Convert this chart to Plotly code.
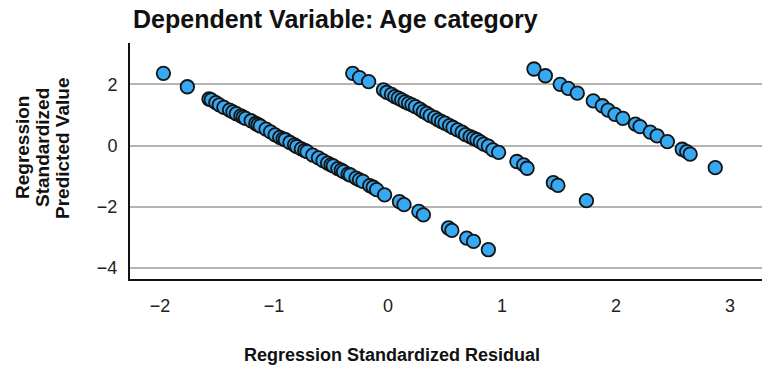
import plotly.graph_objects as go

# Band 1 (lowest diagonal)
res1 = [-1.97, -1.76, -1.57, -1.55, -1.51, -1.48, -1.44, -1.39, -1.36, -1.33, -1.29, -1.27, -1.25,
        -1.20, -1.16, -1.14, -1.12, -1.07, -1.03, -0.99, -0.95, -0.92, -0.90, -0.86, -0.82, -0.80,
        -0.76, -0.73, -0.71, -0.66, -0.61, -0.57, -0.53, -0.50, -0.48, -0.44, -0.41, -0.39, -0.35,
        -0.33, -0.28, -0.25, -0.22, -0.16, -0.13, -0.10, -0.03, 0.10, 0.14, 0.27, 0.31, 0.53,
        0.56, 0.69, 0.75, 0.88]
pred1 = [2.36, 1.92, 1.52, 1.49, 1.40, 1.33, 1.25, 1.16, 1.10, 1.04, 0.97, 0.93, 0.89,
         0.81, 0.72, 0.68, 0.64, 0.54, 0.45, 0.35, 0.27, 0.22, 0.19, 0.10, 0.02, -0.03,
         -0.11, -0.16, -0.20, -0.31, -0.40, -0.49, -0.57, -0.63, -0.66, -0.75, -0.80, -0.85, -0.93,
         -0.96, -1.06, -1.12, -1.17, -1.31, -1.36, -1.44, -1.61, -1.83, -1.93, -2.15, -2.26, -2.69,
         -2.77, -3.02, -3.13, -3.40]

# Band 2 (middle diagonal)
res2 = [-0.31, -0.25, -0.17, -0.04, -0.01, 0.03, 0.06, 0.09, 0.12, 0.15, 0.18, 0.21, 0.24, 0.28,
        0.31, 0.34, 0.37, 0.41, 0.44, 0.47, 0.50, 0.54, 0.57, 0.61, 0.65, 0.68, 0.72, 0.75, 0.78,
        0.81, 0.84, 0.88, 0.92, 0.97, 1.13, 1.19, 1.22, 1.45, 1.49, 1.74]
pred2 = [2.36, 2.22, 2.09, 1.82, 1.74, 1.67, 1.60, 1.55, 1.49, 1.43, 1.38, 1.33, 1.27, 1.19,
         1.11, 1.05, 0.98, 0.91, 0.84, 0.78, 0.73, 0.65, 0.59, 0.51, 0.44, 0.36, 0.29, 0.24, 0.19,
         0.12, 0.05, -0.02, -0.14, -0.22, -0.52, -0.63, -0.74, -1.21, -1.30, -1.80]

# Band 3 (upper diagonal)
res3 = [1.28, 1.38, 1.51, 1.58, 1.66, 1.80, 1.88, 1.93, 1.99, 2.06, 2.17, 2.21, 2.30, 2.36,
        2.45, 2.58, 2.62, 2.65, 2.87]
pred3 = [2.50, 2.28, 2.00, 1.87, 1.71, 1.46, 1.30, 1.16, 1.02, 0.89, 0.70, 0.62, 0.44, 0.32,
         0.13, -0.12, -0.20, -0.28, -0.72]

x_ticks = [-2, -1, 0, 1, 2, 3]
y_ticks = [-4, -2, 0, 2]

title_text = "Dependent Variable: Age category"
x_title = "Regression Standardized Residual"
y_title_lines = ["Regression", "Standardized", "Predicted Value"]

FONT = "Liberation Sans, Arial, sans-serif"

fig = go.Figure()
fig.add_trace(go.Scatter(
    x=res1 + res2 + res3,
    y=pred1 + pred2 + pred3,
    mode="markers",
    marker=dict(size=13.5, color="#36a9f2", line=dict(color="#141414", width=1.8)),
    showlegend=False,
))

annotations = [
    dict(text="<b>" + x_title + "</b>", xref="paper", yref="paper",
         x=(392 - 130) / 632, y=-(355 - 279) / 236, xanchor="center", yanchor="middle",
         showarrow=False, font=dict(size=18, color="#111", family=FONT)),
]
for i, line in enumerate(y_title_lines):
    annotations.append(dict(
        text="<b>" + line + "</b>", xref="paper", yref="paper",
        x=-(130 - (22 + 20 * i)) / 632, y=(279 - 148) / 236,
        xanchor="center", yanchor="middle", textangle=-90, showarrow=False,
        font=dict(size=19, color="#111", family=FONT)))

fig.update_layout(
    width=768, height=376,
    margin=dict(l=130, r=6, t=43, b=97),
    paper_bgcolor="white", plot_bgcolor="white",
    font=dict(family=FONT, color="#222"),
    title=dict(text="<b>" + title_text + "</b>", x=133 / 768, xanchor="left",
               y=1 - 19 / 376, yanchor="middle",
               font=dict(size=25, color="#111", family=FONT)),
    xaxis=dict(range=[-2.263, 3.28], tickvals=x_ticks, showgrid=False, zeroline=False,
               showline=True, linecolor="#111", linewidth=2, ticks="",
               tickfont=dict(size=18, color="#222"), ticklabelstandoff=9),
    yaxis=dict(range=[-4.356, 3.349], tickvals=y_ticks, showgrid=True, gridcolor="#b4b4b4",
               gridwidth=2, zeroline=False, showline=True, linecolor="#111", linewidth=2,
               ticks="", tickfont=dict(size=18, color="#222"), ticklabelstandoff=7),
    annotations=annotations,
)

fig.write_html("out.html")
